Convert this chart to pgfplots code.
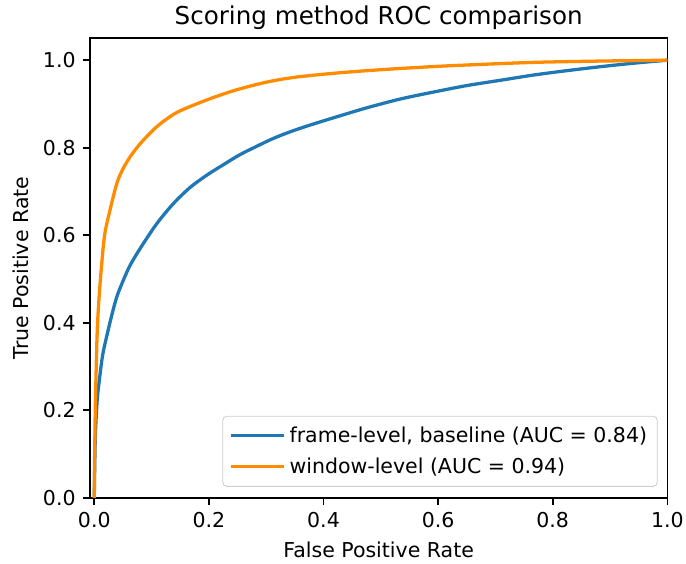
\documentclass[border=0pt]{standalone}
\usepackage{fontspec}
\setmainfont{DejaVu Sans}
\usepackage{pgfplots}
\pgfplotsset{compat=1.18}

\definecolor{mplblue}{HTML}{1F77B4}
\definecolor{darkorange}{HTML}{FF8C00}

% ROC points
\pgfplotstableread{
fpr     tpr
0       0
0.0005  0.05
0.001   0.09
0.002   0.146
0.005   0.222
0.0094  0.275
0.015   0.329
0.024   0.382
0.032   0.425
0.040   0.462
0.050   0.495
0.062   0.530
0.0797  0.569
0.1088  0.626
0.1378  0.672
0.167   0.709
0.196   0.737
0.225   0.761
0.254   0.784
0.283   0.803
0.312   0.821
0.341   0.836
0.370   0.849
0.399   0.861
0.429   0.873
0.475   0.891
0.533   0.911
0.591   0.927
0.650   0.942
0.708   0.954
0.766   0.966
0.824   0.976
0.882   0.985
0.940   0.993
1       1
}\frametable

\pgfplotstableread{
fpr     tpr
0       0
0.0005  0.08
0.001   0.13
0.002   0.22
0.005   0.375
0.008   0.45
0.012   0.52
0.018   0.60
0.027   0.655
0.041   0.725
0.058   0.770
0.080   0.809
0.109   0.848
0.138   0.876
0.158   0.889
0.184   0.903
0.2105  0.916
0.25    0.933
0.301   0.950
0.35    0.961
0.417   0.970
0.475   0.976
0.533   0.981
0.6     0.986
0.650   0.989
0.766   0.995
0.882   0.998
1       1
}\windowtable

\begin{document}
\begin{tikzpicture}
\begin{axis}[name=ax,
    scale only axis=true, width=281.7pt, height=224.2pt,
    xmin=-0.0075, xmax=1, ymin=0, ymax=1.05,
    xtick={0,0.2,0.4,0.6,0.8,1},
    ytick={0,0.2,0.4,0.6,0.8,1},
    tick align=outside, tick pos=left,
    major tick length=3.5pt,
    every tick/.style={black, line width=0.8pt},
    axis line style={line width=0.8pt},
    /pgf/number format/assume math mode=true,
    /pgf/number format/fixed, /pgf/number format/fixed zerofill,
    /pgf/number format/precision=1,
    ticklabel style={font=\fontsize{10}{12}\selectfont},
    label style={font=\fontsize{10}{12}\selectfont},
    title style={font=\fontsize{12}{14}\selectfont, anchor=base, yshift=0.5pt, inner sep=0pt},
    title={Scoring method ROC comparison},
    xlabel={False Positive Rate},
    ylabel={True Positive Rate},
    legend cell align=left,
    legend image code/.code={\draw[#1] (0pt,0pt) -- (21.7pt,0pt); \path (0pt,0pt) -- (26pt,0pt);},
    legend style={at={(1,0)}, anchor=south east, xshift=-4.7pt, yshift=5.4pt,
      draw=black!20, rounded corners=2pt, fill=white,
      font=\fontsize{10}{12}\selectfont, row sep=2pt,
      inner xsep=3pt, inner ysep=3pt},
    ]
\addplot[mplblue, line width=1.6pt, line join=round, smooth, tension=0.5] table[x=fpr, y=tpr] {\frametable};
\addlegendentry{frame-level, baseline (AUC = 0.84)}
\addplot[darkorange, line width=1.6pt, line join=round, smooth, tension=0.5] table[x=fpr, y=tpr] {\windowtable};
\addlegendentry{window-level (AUC = 0.94)}
\end{axis}
\pgfresetboundingbox
\path[use as bounding box] ([shift={(-43.9pt,-31.9pt)}]ax.south west) rectangle ([shift={(9.1pt,18.7pt)}]ax.north east);
\end{tikzpicture}
\end{document}
